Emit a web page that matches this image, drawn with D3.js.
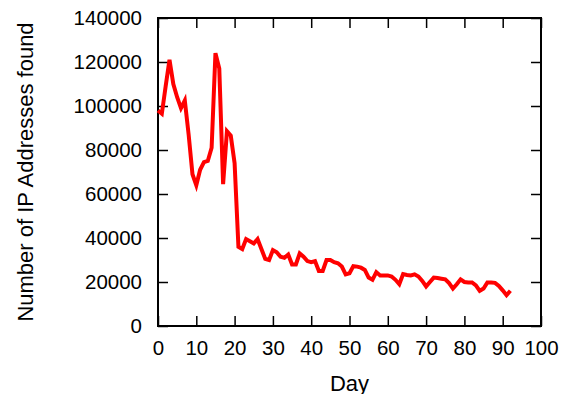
<!DOCTYPE html>
<html>
<head>
<meta charset="utf-8">
<script src="https://cdn.jsdelivr.net/npm/d3@7.9.0/dist/d3.min.js"></script>
<style>
  body { margin: 0; background: #fff; }
  svg { display: block; font-family: "Liberation Sans", Arial, sans-serif; }
  .axis text { font-size: 20.5px; fill: #000; }
  .axis line { stroke: #000; stroke-width: 1.5; }
</style>
</head>
<body>
<div id="chart"></div>
<script>
// IP addresses found per day
const days = d3.range(0, 93);
const ipCounts = [
  98000, 96500, 109000, 121000, 110000, 104000, 99000, 102500, 87000, 69000,
  64000, 71000, 74500, 75000, 81000, 124000, 117000, 64500, 88500, 86500,
  74000, 36000, 35000, 39500, 38500, 37500, 39500, 35000, 30500, 30000,
  34500, 33500, 31500, 31000, 32500, 28000, 28000, 33000, 31500, 29500,
  29000, 29500, 25000, 25000, 30000, 30000, 29000, 28500, 27000, 23500,
  24000, 27200, 27000, 26500, 25500, 22000, 21000, 24500, 23000, 23000,
  23000, 22500, 21000, 19000, 23600, 23200, 23000, 23500, 22500, 20500,
  18000, 20000, 22000, 21800, 21500, 21200, 19500, 17000, 19000, 21200,
  20000, 19800, 19800, 18500, 16000, 17000, 19800, 19800, 19600, 18200,
  16200, 14000, 16000
];
const xTicks = d3.range(0, 101, 10);
const yTicks = d3.range(0, 140001, 20000);

const width = 569;
const height = 394;
const margin = { top: 18, right: 28, bottom: 68, left: 158 };

const svg = d3.select('#chart')
  .append('svg')
  .attr('width', width)
  .attr('height', height);

const xScale = d3.scaleLinear()
  .domain([0, 100])
  .range([margin.left, width - margin.right]);

const yScale = d3.scaleLinear()
  .domain([0, 140000])
  .range([height - margin.bottom, margin.top]);

// bottom axis with labels, ticks pointing inward
const xAxis = svg.append('g')
  .attr('class', 'axis')
  .attr('transform', `translate(0, ${height - margin.bottom})`)
  .call(d3.axisBottom(xScale).tickValues(xTicks).tickSize(-10).tickPadding(10).tickFormat(d3.format('d')));
xAxis.select('.domain').remove();
xAxis.selectAll('text').attr('dy', '0.95em');

// top mirror ticks
svg.append('g')
  .attr('class', 'axis')
  .attr('transform', `translate(0, ${margin.top})`)
  .call(d3.axisTop(xScale).tickValues(xTicks).tickSize(-10).tickFormat(''))
  .select('.domain').remove();

// left axis with labels
const yAxis = svg.append('g')
  .attr('class', 'axis')
  .attr('transform', `translate(${margin.left}, 0)`)
  .call(d3.axisLeft(yScale).tickValues(yTicks).tickSize(-10).tickPadding(16).tickFormat(d3.format('d')));
yAxis.select('.domain').remove();

// right mirror ticks
svg.append('g')
  .attr('class', 'axis')
  .attr('transform', `translate(${width - margin.right}, 0)`)
  .call(d3.axisRight(yScale).tickValues(yTicks).tickSize(-10).tickFormat(''))
  .select('.domain').remove();

// frame
svg.append('rect')
  .attr('x', xScale(0))
  .attr('y', yScale(140000))
  .attr('width', xScale(100) - xScale(0))
  .attr('height', yScale(0) - yScale(140000))
  .attr('fill', 'none')
  .attr('stroke', '#000')
  .attr('stroke-width', 2);

// data line
const line = d3.line()
  .x((d, i) => xScale(days[i]))
  .y(d => yScale(d));

svg.append('path')
  .datum(ipCounts)
  .attr('fill', 'none')
  .attr('stroke', '#ff0000')
  .attr('stroke-width', 4)
  .attr('stroke-linejoin', 'miter')
  .attr('d', line);

// axis titles
svg.append('text')
  .attr('x', (xScale(0) + xScale(100)) / 2)
  .attr('y', 383)
  .attr('dominant-baseline', 'central')
  .attr('text-anchor', 'middle')
  .style('font-size', '22px')
  .text('Day');

svg.append('text')
  .attr('transform', `translate(25, ${(yScale(0) + yScale(140000)) / 2}) rotate(-90)`)
  .attr('dominant-baseline', 'central')
  .attr('text-anchor', 'middle')
  .style('font-size', '22px')
  .text('Number of IP Addresses found');
</script>
</body>
</html>
